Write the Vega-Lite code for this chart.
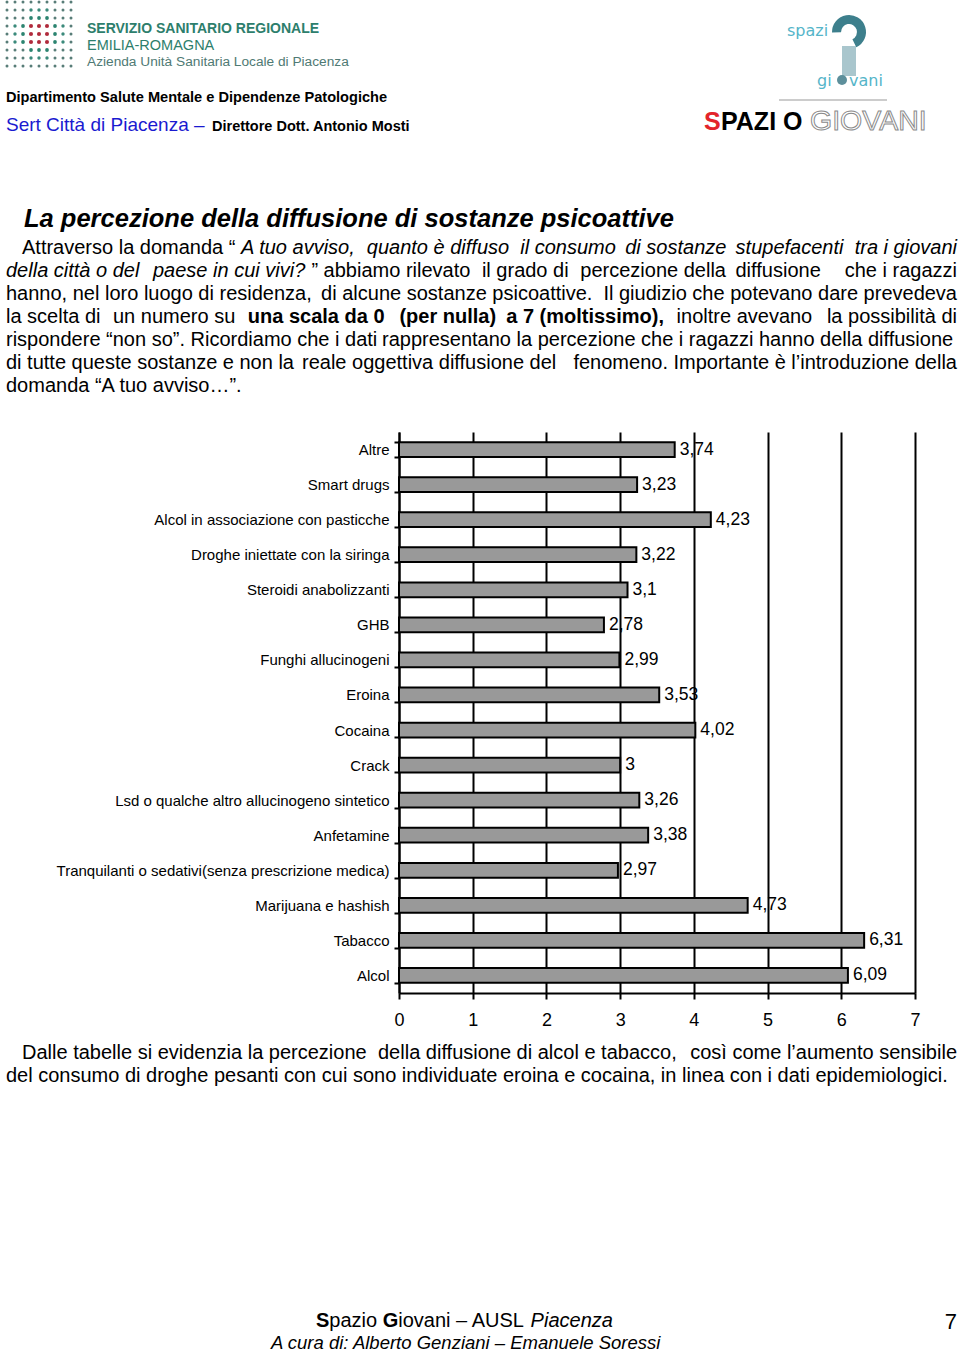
{
  "$schema": "https://vega.github.io/schema/vega-lite/v6.json",
  "width": 516,
  "height": 561,
  "autosize": {"type": "none"},
  "padding": {"left": 399, "top": 432, "right": 45, "bottom": 359},
  "background": "white",
  "config": {
    "view": {"stroke": null},
    "locale": {"number": {"decimal": ",", "thousands": ".", "grouping": [3], "currency": ["€", ""]}},
    "text": {"font": "Liberation Sans, Arial, sans-serif", "fontSize": 20, "baseline": "alphabetic", "align": "left", "color": "black"}
  },
  "datasets": {
    "sostanze": [
      {"sostanza": "Altre", "valore": 3.74},
      {"sostanza": "Smart drugs", "valore": 3.23},
      {"sostanza": "Alcol in associazione con pasticche", "valore": 4.23},
      {"sostanza": "Droghe iniettate con la siringa", "valore": 3.22},
      {"sostanza": "Steroidi anabolizzanti", "valore": 3.1},
      {"sostanza": "GHB", "valore": 2.78},
      {"sostanza": "Funghi allucinogeni", "valore": 2.99},
      {"sostanza": "Eroina", "valore": 3.53},
      {"sostanza": "Cocaina", "valore": 4.02},
      {"sostanza": "Crack", "valore": 3},
      {"sostanza": "Lsd o qualche altro allucinogeno sintetico", "valore": 3.26},
      {"sostanza": "Anfetamine", "valore": 3.38},
      {"sostanza": "Tranquilanti o sedativi(senza prescrizione medica)", "valore": 2.97},
      {"sostanza": "Marijuana e hashish", "valore": 4.73},
      {"sostanza": "Tabacco", "valore": 6.31},
      {"sostanza": "Alcol", "valore": 6.09}
    ],
    "logo": [
      {"riga":1,"col":1,"tipo":"p"},{"riga":1,"col":2,"tipo":"p"},{"riga":1,"col":3,"tipo":"p"},{"riga":1,"col":4,"tipo":"p"},{"riga":1,"col":5,"tipo":"p"},{"riga":1,"col":6,"tipo":"p"},{"riga":1,"col":7,"tipo":"p"},{"riga":1,"col":8,"tipo":"p"},{"riga":1,"col":9,"tipo":"p"},
      {"riga":2,"col":1,"tipo":"p"},{"riga":2,"col":2,"tipo":"p"},{"riga":2,"col":3,"tipo":"p"},{"riga":2,"col":4,"tipo":"m"},{"riga":2,"col":5,"tipo":"m"},{"riga":2,"col":6,"tipo":"m"},{"riga":2,"col":7,"tipo":"p"},{"riga":2,"col":8,"tipo":"p"},{"riga":2,"col":9,"tipo":"p"},
      {"riga":3,"col":1,"tipo":"p"},{"riga":3,"col":2,"tipo":"p"},{"riga":3,"col":3,"tipo":"p"},{"riga":3,"col":4,"tipo":"g"},{"riga":3,"col":5,"tipo":"g"},{"riga":3,"col":6,"tipo":"g"},{"riga":3,"col":7,"tipo":"p"},{"riga":3,"col":8,"tipo":"p"},{"riga":3,"col":9,"tipo":"p"},
      {"riga":4,"col":1,"tipo":"p"},{"riga":4,"col":2,"tipo":"m"},{"riga":4,"col":3,"tipo":"g"},{"riga":4,"col":4,"tipo":"r"},{"riga":4,"col":5,"tipo":"r"},{"riga":4,"col":6,"tipo":"r"},{"riga":4,"col":7,"tipo":"g"},{"riga":4,"col":8,"tipo":"m"},{"riga":4,"col":9,"tipo":"p"},
      {"riga":5,"col":1,"tipo":"p"},{"riga":5,"col":2,"tipo":"m"},{"riga":5,"col":3,"tipo":"g"},{"riga":5,"col":4,"tipo":"r"},{"riga":5,"col":5,"tipo":"r"},{"riga":5,"col":6,"tipo":"r"},{"riga":5,"col":7,"tipo":"g"},{"riga":5,"col":8,"tipo":"m"},{"riga":5,"col":9,"tipo":"p"},
      {"riga":6,"col":1,"tipo":"p"},{"riga":6,"col":2,"tipo":"m"},{"riga":6,"col":3,"tipo":"g"},{"riga":6,"col":4,"tipo":"r"},{"riga":6,"col":5,"tipo":"r"},{"riga":6,"col":6,"tipo":"r"},{"riga":6,"col":7,"tipo":"g"},{"riga":6,"col":8,"tipo":"m"},{"riga":6,"col":9,"tipo":"p"},
      {"riga":7,"col":1,"tipo":"p"},{"riga":7,"col":2,"tipo":"p"},{"riga":7,"col":3,"tipo":"p"},{"riga":7,"col":4,"tipo":"g"},{"riga":7,"col":5,"tipo":"g"},{"riga":7,"col":6,"tipo":"g"},{"riga":7,"col":7,"tipo":"p"},{"riga":7,"col":8,"tipo":"p"},{"riga":7,"col":9,"tipo":"p"},
      {"riga":8,"col":1,"tipo":"p"},{"riga":8,"col":2,"tipo":"p"},{"riga":8,"col":3,"tipo":"p"},{"riga":8,"col":4,"tipo":"m"},{"riga":8,"col":5,"tipo":"m"},{"riga":8,"col":6,"tipo":"m"},{"riga":8,"col":7,"tipo":"p"},{"riga":8,"col":8,"tipo":"p"},{"riga":8,"col":9,"tipo":"p"},
      {"riga":9,"col":1,"tipo":"p"},{"riga":9,"col":2,"tipo":"p"},{"riga":9,"col":3,"tipo":"p"},{"riga":9,"col":4,"tipo":"p"},{"riga":9,"col":5,"tipo":"p"},{"riga":9,"col":6,"tipo":"p"},{"riga":9,"col":7,"tipo":"p"},{"riga":9,"col":8,"tipo":"p"},{"riga":9,"col":9,"tipo":"p"}
    ]
  },
  "layer": [
    {
      "data": {"name": "sostanze"},
      "layer": [
        {
          "mark": {"type": "bar", "fill": "#999999", "stroke": "black", "strokeWidth": 2},
          "encoding": {
            "y": {
              "field": "sostanza", "type": "nominal", "sort": null,
              "scale": {"paddingInner": 0.58, "paddingOuter": 0.29},
              "axis": {
                "title": null, "grid": false, "domainColor": "black", "domainWidth": 2,
                "tickColor": "black", "tickWidth": 2, "tickSize": 5, "tickBand": "extent",
                "labelFont": "Liberation Sans, Arial, sans-serif", "labelFontSize": 15, "labelColor": "black",
                "labelPadding": 5, "labelLimit": 500
              }
            },
            "x": {
              "field": "valore", "type": "quantitative",
              "scale": {"domain": [0, 7], "nice": false},
              "axis": {
                "title": null, "values": [0, 1, 2, 3, 4, 5, 6, 7], "format": "d",
                "grid": true, "gridColor": "black", "gridWidth": 2, "gridOpacity": 1,
                "domainColor": "black", "domainWidth": 2,
                "tickColor": "black", "tickWidth": 2, "tickSize": 6,
                "labelFont": "Liberation Sans, Arial, sans-serif", "labelFontSize": 18, "labelColor": "black",
                "labelPadding": 12, "labelFlush": false
              }
            }
          }
        },
        {
          "mark": {"type": "text", "align": "left", "baseline": "middle", "dx": 5, "fontSize": 17.5},
          "encoding": {
            "y": {"field": "sostanza", "type": "nominal", "sort": null},
            "x": {"field": "valore", "type": "quantitative"},
            "text": {"field": "valore", "type": "quantitative", "format": ".2~f"}
          }
        }
      ]
    },
    {
      "data": {"name": "logo"},
      "mark": {"type": "circle", "opacity": 1},
      "encoding": {
        "x": {"field": "col", "type": "quantitative", "scale": {"domain": [1, 9], "range": [-392, -328], "zero": false, "nice": false}, "axis": null},
        "y": {"field": "riga", "type": "quantitative", "scale": {"domain": [1, 9], "range": [-430, -366], "zero": false, "nice": false}, "axis": null},
        "color": {"field": "tipo", "type": "nominal", "scale": {"domain": ["p", "m", "g", "r"], "range": ["#587d78", "#3b8a7b", "#2b8470", "#b02a3c"]}, "legend": null},
        "size": {"field": "tipo", "type": "ordinal", "scale": {"domain": ["p", "m", "g", "r"], "range": [9, 17, 27, 27]}, "legend": null}
      }
    },
    {"data": {"values": [{}]}, "mark": {"type": "text", "fontWeight": "bold", "fontSize": 14, "color": "#2d7e6c", "text": "SERVIZIO SANITARIO REGIONALE"}, "encoding": {"x": {"value": -312}, "y": {"value": -399.5}}},
    {"data": {"values": [{}]}, "mark": {"type": "text", "fontSize": 14.5, "color": "#2d7e6c", "text": "EMILIA-ROMAGNA"}, "encoding": {"x": {"value": -312}, "y": {"value": -382.5}}},
    {"data": {"values": [{}]}, "mark": {"type": "text", "fontSize": 13.7, "color": "#4f7a74", "text": "Azienda Unità Sanitaria Locale di Piacenza"}, "encoding": {"x": {"value": -312}, "y": {"value": -366}}},
    {"data": {"values": [{}]}, "mark": {"type": "text", "fontWeight": "bold", "fontSize": 14.6, "text": "Dipartimento Salute Mentale e Dipendenze Patologiche"}, "encoding": {"x": {"value": -393}, "y": {"value": -330}}},
    {"data": {"values": [{}]}, "mark": {"type": "text", "fontSize": 19, "color": "#1a1ad0", "text": "Sert Città di Piacenza –"}, "encoding": {"x": {"value": -393}, "y": {"value": -301}}},
    {"data": {"values": [{}]}, "mark": {"type": "text", "fontWeight": "bold", "fontSize": 14.5, "text": "Direttore Dott. Antonio Mosti"}, "encoding": {"x": {"value": -187}, "y": {"value": -301}}},

    {"data": {"values": [{}]}, "mark": {"type": "text", "font": "DejaVu Sans", "fontSize": 16, "color": "#55b5c9", "text": "spazi"}, "encoding": {"x": {"value": 388}, "y": {"value": -396}}},
    {"data": {"values": [{}]}, "mark": {"type": "arc", "innerRadius": 8, "outerRadius": 17, "theta": -1.6, "theta2": 2.7, "color": "#3d7f8c"}, "encoding": {"x": {"value": 450}, "y": {"value": -400}}},
    {"data": {"values": [{}]}, "mark": {"type": "rect", "color": "#a9c6cd"}, "encoding": {"x": {"value": 443}, "x2": {"value": 457}, "y": {"value": -386}, "y2": {"value": -356}}},
    {"data": {"values": [{}]}, "mark": {"type": "circle", "size": 100, "color": "#5d8f9b", "opacity": 1}, "encoding": {"x": {"value": 443}, "y": {"value": -352}}},
    {"data": {"values": [{}]}, "mark": {"type": "text", "font": "DejaVu Sans", "fontSize": 16, "color": "#55b5c9", "text": "gi"}, "encoding": {"x": {"value": 418}, "y": {"value": -346}}},
    {"data": {"values": [{}]}, "mark": {"type": "text", "font": "DejaVu Sans", "fontSize": 16, "color": "#55b5c9", "text": "vani"}, "encoding": {"x": {"value": 450}, "y": {"value": -346}}},
    {"data": {"values": [{}]}, "mark": {"type": "rule", "color": "#999999", "strokeWidth": 1}, "encoding": {"x": {"value": 380}, "x2": {"value": 488}, "y": {"value": -332}}},
    {"data": {"values": [{}]}, "mark": {"type": "text", "fontWeight": "bold", "fontSize": 25, "color": "#e3242b", "text": "S"}, "encoding": {"x": {"value": 305}, "y": {"value": -302}}},
    {"data": {"values": [{}]}, "mark": {"type": "text", "fontWeight": "bold", "fontSize": 25, "text": "PAZI O"}, "encoding": {"x": {"value": 322}, "y": {"value": -302}}},
    {"data": {"values": [{}]}, "mark": {"type": "text", "fontSize": 28.5, "fill": "white", "stroke": "#8a8a8a", "strokeWidth": 1, "text": "GIOVANI"}, "encoding": {"x": {"value": 411}, "y": {"value": -302}}},

    {"data": {"values": [{}]}, "mark": {"type": "text", "fontWeight": "bold", "fontStyle": "italic", "fontSize": 25.5, "text": "La percezione della diffusione di sostanze psicoattive"}, "encoding": {"x": {"value": -375}, "y": {"value": -205}}},

    {"data": {"values": [{}]}, "mark": {"type": "text", "text": "Attraverso la domanda “"}, "encoding": {"x": {"value": -377}, "y": {"value": -178}}},
    {"data": {"values": [{}]}, "mark": {"type": "text", "fontStyle": "italic", "text": "A tuo avviso,"}, "encoding": {"x": {"value": -158}, "y": {"value": -178}}},
    {"data": {"values": [{}]}, "mark": {"type": "text", "fontStyle": "italic", "text": "quanto è diffuso"}, "encoding": {"x": {"value": -32.2}, "y": {"value": -178}}},
    {"data": {"values": [{}]}, "mark": {"type": "text", "fontStyle": "italic", "text": "il consumo"}, "encoding": {"x": {"value": 121.3}, "y": {"value": -178}}},
    {"data": {"values": [{}]}, "mark": {"type": "text", "fontStyle": "italic", "text": "di sostanze"}, "encoding": {"x": {"value": 226.2}, "y": {"value": -178}}},
    {"data": {"values": [{}]}, "mark": {"type": "text", "fontStyle": "italic", "text": "stupefacenti"}, "encoding": {"x": {"value": 336.6}, "y": {"value": -178}}},
    {"data": {"values": [{}]}, "mark": {"type": "text", "fontStyle": "italic", "align": "right", "text": "tra i giovani"}, "encoding": {"x": {"value": 558}, "y": {"value": -178}}},

    {"data": {"values": [{}]}, "mark": {"type": "text", "fontStyle": "italic", "text": "della città o del"}, "encoding": {"x": {"value": -393}, "y": {"value": -155}}},
    {"data": {"values": [{}]}, "mark": {"type": "text", "fontStyle": "italic", "text": "paese in cui vivi?"}, "encoding": {"x": {"value": -246}, "y": {"value": -155}}},
    {"data": {"values": [{}]}, "mark": {"type": "text", "text": "” abbiamo rilevato"}, "encoding": {"x": {"value": -87.6}, "y": {"value": -155}}},
    {"data": {"values": [{}]}, "mark": {"type": "text", "text": "il grado di"}, "encoding": {"x": {"value": 82.9}, "y": {"value": -155}}},
    {"data": {"values": [{}]}, "mark": {"type": "text", "text": "percezione della"}, "encoding": {"x": {"value": 181.3}, "y": {"value": -155}}},
    {"data": {"values": [{}]}, "mark": {"type": "text", "text": "diffusione"}, "encoding": {"x": {"value": 336.5}, "y": {"value": -155}}},
    {"data": {"values": [{}]}, "mark": {"type": "text", "align": "right", "text": "che i ragazzi"}, "encoding": {"x": {"value": 558}, "y": {"value": -155}}},

    {"data": {"values": [{}]}, "mark": {"type": "text", "text": "hanno, nel loro luogo di residenza,"}, "encoding": {"x": {"value": -393}, "y": {"value": -132}}},
    {"data": {"values": [{}]}, "mark": {"type": "text", "text": "di alcune sostanze psicoattive."}, "encoding": {"x": {"value": -77.9}, "y": {"value": -132}}},
    {"data": {"values": [{}]}, "mark": {"type": "text", "align": "right", "text": "Il giudizio che potevano dare prevedeva"}, "encoding": {"x": {"value": 558}, "y": {"value": -132}}},

    {"data": {"values": [{}]}, "mark": {"type": "text", "text": "la scelta di"}, "encoding": {"x": {"value": -393}, "y": {"value": -109}}},
    {"data": {"values": [{}]}, "mark": {"type": "text", "text": "un numero su"}, "encoding": {"x": {"value": -286}, "y": {"value": -109}}},
    {"data": {"values": [{}]}, "mark": {"type": "text", "fontWeight": "bold", "text": "una scala da 0"}, "encoding": {"x": {"value": -151.2}, "y": {"value": -109}}},
    {"data": {"values": [{}]}, "mark": {"type": "text", "fontWeight": "bold", "text": "(per nulla)"}, "encoding": {"x": {"value": 0.4}, "y": {"value": -109}}},
    {"data": {"values": [{}]}, "mark": {"type": "text", "fontWeight": "bold", "text": "a 7 (moltissimo),"}, "encoding": {"x": {"value": 107.2}, "y": {"value": -109}}},
    {"data": {"values": [{}]}, "mark": {"type": "text", "text": "inoltre avevano"}, "encoding": {"x": {"value": 277.6}, "y": {"value": -109}}},
    {"data": {"values": [{}]}, "mark": {"type": "text", "align": "right", "text": "la possibilità di"}, "encoding": {"x": {"value": 558}, "y": {"value": -109}}},

    {"data": {"values": [{}]}, "mark": {"type": "text", "text": "rispondere “non so”. Ricordiamo che i dati"}, "encoding": {"x": {"value": -393}, "y": {"value": -86}}},
    {"data": {"values": [{}]}, "mark": {"type": "text", "text": "rappresentano la percezione che i ragazzi hanno della diffusione"}, "encoding": {"x": {"value": -17}, "y": {"value": -86}}},

    {"data": {"values": [{}]}, "mark": {"type": "text", "text": "di tutte queste sostanze e non la"}, "encoding": {"x": {"value": -393}, "y": {"value": -63}}},
    {"data": {"values": [{}]}, "mark": {"type": "text", "text": "reale oggettiva diffusione del"}, "encoding": {"x": {"value": -97}, "y": {"value": -63}}},
    {"data": {"values": [{}]}, "mark": {"type": "text", "align": "right", "text": "fenomeno. Importante è l’introduzione della"}, "encoding": {"x": {"value": 558}, "y": {"value": -63}}},

    {"data": {"values": [{}]}, "mark": {"type": "text", "text": "domanda “A tuo avviso…”."}, "encoding": {"x": {"value": -393}, "y": {"value": -40}}},

    {"data": {"values": [{}]}, "mark": {"type": "text", "text": "Dalle tabelle si evidenzia la percezione"}, "encoding": {"x": {"value": -377}, "y": {"value": 627}}},
    {"data": {"values": [{}]}, "mark": {"type": "text", "text": "della diffusione di alcol e tabacco,"}, "encoding": {"x": {"value": -21}, "y": {"value": 627}}},
    {"data": {"values": [{}]}, "mark": {"type": "text", "align": "right", "text": "così come l’aumento sensibile"}, "encoding": {"x": {"value": 558}, "y": {"value": 627}}},
    {"data": {"values": [{}]}, "mark": {"type": "text", "text": "del consumo di droghe pesanti con cui sono individuate eroina e cocaina, in linea con i dati epidemiologici."}, "encoding": {"x": {"value": -393}, "y": {"value": 650}}},

    {"data": {"values": [{}]}, "mark": {"type": "text", "fontWeight": "bold", "text": "S"}, "encoding": {"x": {"value": -83}, "y": {"value": 895}}},
    {"data": {"values": [{}]}, "mark": {"type": "text", "text": "pazio"}, "encoding": {"x": {"value": -69.7}, "y": {"value": 895}}},
    {"data": {"values": [{}]}, "mark": {"type": "text", "fontWeight": "bold", "text": "G"}, "encoding": {"x": {"value": -16.3}, "y": {"value": 895}}},
    {"data": {"values": [{}]}, "mark": {"type": "text", "text": "iovani – AUSL"}, "encoding": {"x": {"value": -0.7}, "y": {"value": 895}}},
    {"data": {"values": [{}]}, "mark": {"type": "text", "fontStyle": "italic", "text": "Piacenza"}, "encoding": {"x": {"value": 131.6}, "y": {"value": 895}}},
    {"data": {"values": [{}]}, "mark": {"type": "text", "fontStyle": "italic", "fontSize": 18.5, "text": "A cura di:  Alberto Genziani – Emanuele Soressi"}, "encoding": {"x": {"value": -128}, "y": {"value": 917}}},
    {"data": {"values": [{}]}, "mark": {"type": "text", "fontSize": 22, "align": "right", "text": "7"}, "encoding": {"x": {"value": 558}, "y": {"value": 897}}}
  ],
  "resolve": {"scale": {"x": "independent", "y": "independent"}}
}
